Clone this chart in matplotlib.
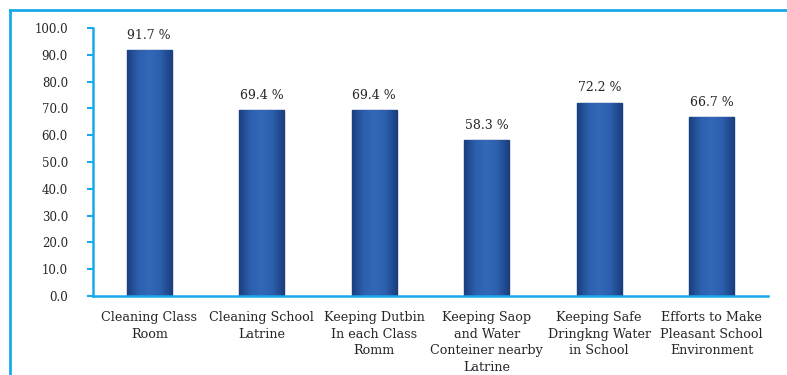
import matplotlib
matplotlib.use("Agg")
import matplotlib.pyplot as plt
import numpy as np
from matplotlib.lines import Line2D
from matplotlib.colors import LinearSegmentedColormap

categories = ["Cleaning Class\nRoom", "Cleaning School\nLatrine", "Keeping Dutbin\nIn each Class\nRomm",
              "Keeping Saop\nand Water\nConteiner nearby\nLatrine", "Keeping Safe\nDringkng Water\nin School",
              "Efforts to Make\nPleasant School\nEnvironment"]
values = [91.7, 69.4, 69.4, 58.3, 72.2, 66.7]
value_labels = ["91.7 %", "69.4 %", "69.4 %", "58.3 %", "72.2 %", "66.7 %"]
yticks = [0, 10, 20, 30, 40, 50, 60, 70, 80, 90, 100]

cyan = "#19a9ea"
font = "DejaVu Serif"
txtc = "#262626"

fig = plt.figure(figsize=(7.87, 3.75), dpi=100)
ax = fig.add_axes([93/787, 1-296/375, (768-93)/787, (296-28)/375])

x = list(range(len(categories)))
bw = 0.4
bars = ax.bar(x, values, width=bw, color="#2f66b6", edgecolor="#1c3f7c", linewidth=1.0, zorder=2)
cmap = LinearSegmentedColormap.from_list("bl", ["#1b3f80", "#2c60ae", "#3368b8", "#2c60ae", "#1b3f80"])
grad = np.linspace(0, 1, 64).reshape(1, -1)
for b in bars:
    im = ax.imshow(grad, cmap=cmap, aspect="auto", zorder=2.5,
                   extent=[b.get_x(), b.get_x() + b.get_width(), 0, b.get_height()])
    im.set_clip_path(b)
for xi, v, lab in zip(x, values, value_labels):
    ax.text(xi, v + 3, lab, ha="center", va="bottom", fontsize=9, family=font, color=txtc)

ax.set_xlim(-0.5, len(categories) - 0.5)
ax.set_ylim(0, 100)
ax.set_yticks(yticks)
ax.set_yticklabels([f"{t:.1f}" for t in yticks], family=font, fontsize=8.5, color=txtc)
ax.set_xticks(x)
ax.set_xticklabels(categories, family=font, fontsize=9.2, color=txtc, linespacing=1.35)
ax.tick_params(axis="x", length=0, pad=11)
ax.tick_params(axis="y", length=4, width=1.5, color=cyan, direction="out", pad=14)
for s in ["top", "right"]:
    ax.spines[s].set_visible(False)
ax.spines["left"].set_color(cyan)
ax.spines["bottom"].set_color(cyan)
ax.spines["left"].set_linewidth(1.8)
ax.spines["bottom"].set_linewidth(1.8)

# outer frame
fig.add_artist(Line2D([10/787, 10/787], [0, 1-10/375], transform=fig.transFigure, color=cyan, lw=2))
fig.add_artist(Line2D([10/787, 1], [1-10/375, 1-10/375], transform=fig.transFigure, color=cyan, lw=2))

fig.savefig("out.png", dpi=100)
